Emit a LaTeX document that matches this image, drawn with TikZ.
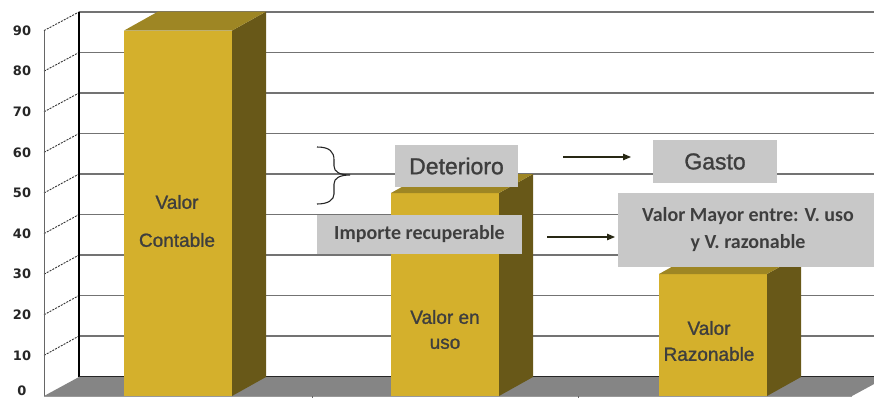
\documentclass[tikz,border=0pt]{standalone}
\usepackage{fontspec}
\setmainfont{Liberation Sans}
\newfontfamily\semib[FakeBold=1.2]{Liberation Sans}
\newfontfamily\carl{Carlito}
\newfontfamily\dvs{DejaVu Sans}
\usetikzlibrary{arrows.meta}
\definecolor{barfront}{RGB}{212,176,44}
\definecolor{barside}{RGB}{104,88,24}
\definecolor{bartop}{RGB}{158,134,36}
\definecolor{boxgray}{RGB}{200,200,200}
\definecolor{txtgray}{RGB}{62,62,62}
\definecolor{floorgray}{RGB}{133,133,133}
\definecolor{arrowdark}{RGB}{40,40,20}
\newcommand{\chartbar}[3]{%
  \fill[barfront] (#1,#3) rectangle (#2,396);
  \fill[barside] (#2,#3) -- ({#2+34},{#3-19}) -- ({#2+34},377) -- (#2,396) -- cycle;
  \fill[bartop] (#1,#3) -- ({#1+34},{#3-19}) -- ({#2+34},{#3-19}) -- (#2,#3) -- cycle;
}
\begin{document}
\begin{tikzpicture}[x=1pt,y=-1pt,
  gridline/.style={draw=black!55, line width=1.3pt},
  sideline/.style={draw=black!80, line width=0.9pt, dash pattern=on 2pt off 1.2pt},
  labelbox/.style={fill=boxgray, inner sep=0pt, text=txtgray, align=center},
  barlabel/.style={text=txtgray, align=center},
  ylab/.style={font=\dvs\bfseries\fontsize{13}{13}\selectfont, text=black!85, inner sep=1pt},
  arr/.style={-{Triangle[length=8pt,width=6.5pt]}, draw=arrowdark, line width=1.2pt}]
\useasboundingbox (0,0) rectangle (874,398);
\fill[white] (0,0) rectangle (874,398);
% back wall grid
\foreach \k in {1,...,9} {
  \draw[gridline] (79,{376.5-\k*40.5}) -- (874,{376.5-\k*40.5});
  \draw[sideline] (44,{396-\k*40.6}) -- (79,{376.5-\k*40.5});
}
\draw[black!60, line width=1pt] (44,30.6) -- (44,396);
\draw[black, line width=1.2pt] (79,12) -- (79,377);
% floor
\fill[floorgray] (44,396) -- (79,377) -- (887,377) -- (852,396) -- cycle;
\draw[black!85, line width=1.5pt] (79,376.5) -- (874,376.5);
\draw[black!40, line width=0.8pt] (44,396) -- (852,396);
\draw[black!60, line width=0.8pt] (312,396) -- (312,399);
\draw[black!60, line width=0.8pt] (578,396) -- (578,399);
% y labels
\foreach \k in {1,...,9} {
  \node[ylab] (y\k) at (22,{396-\k*40.6}) {\the\numexpr\k*10\relax};
}
\node[ylab, anchor=south] (y0) at (22,396.5) {0};
% bars
\chartbar{124}{232}{30.6}
\chartbar{391}{499}{193}
\chartbar{659}{767}{274}
\node[barlabel, font=\semib\fontsize{19}{38}\selectfont] (b1) at (177,221) {Valor\\Contable};
\node[barlabel, font=\semib\fontsize{19}{25}\selectfont] (b2) at (445,329.5) {Valor en\\uso};
\node[barlabel, font=\semib\fontsize{19}{26}\selectfont] (b3) at (709,341) {Valor\\Razonable};
% boxes
\node[labelbox, minimum width=123pt, minimum height=42pt, font=\semib\fontsize{23}{23}\selectfont] (det) at (456.5,166) {Deterioro};
\node[labelbox, minimum width=124pt, minimum height=43pt, font=\semib\fontsize{23}{23}\selectfont] (gasto) at (715,161.5) {Gasto};
\node[labelbox, minimum width=205pt, minimum height=39pt, font=\carl\bfseries\fontsize{20}{20}\selectfont] (imp) at (419.5,234.5) {Importe recuperable};
\node[labelbox, minimum width=260pt, minimum height=74pt, font=\carl\bfseries\fontsize{20}{27}\selectfont] (vmay) at (748,230) {Valor Mayor entre: V. uso\\y V. razonable};
% arrows
\coordinate (a1s) at (563,157);
\coordinate (a1e) at (631,157);
\coordinate (a2s) at (547,237);
\coordinate (a2e) at (615,237);
\draw[arr] (a1s) -- (a1e);
\draw[arr] (a2s) -- (a2e);
% brace
\draw[black!85, line width=1.1pt] (317,147) .. controls (330,147) and (334,152) .. (334,160) -- (334,166) .. controls (334,172) and (340,175) .. (350,175) .. controls (340,175) and (334,178) .. (334,184) -- (334,194) .. controls (334,200) and (328,204) .. (317,204);
\end{tikzpicture}
\end{document}
